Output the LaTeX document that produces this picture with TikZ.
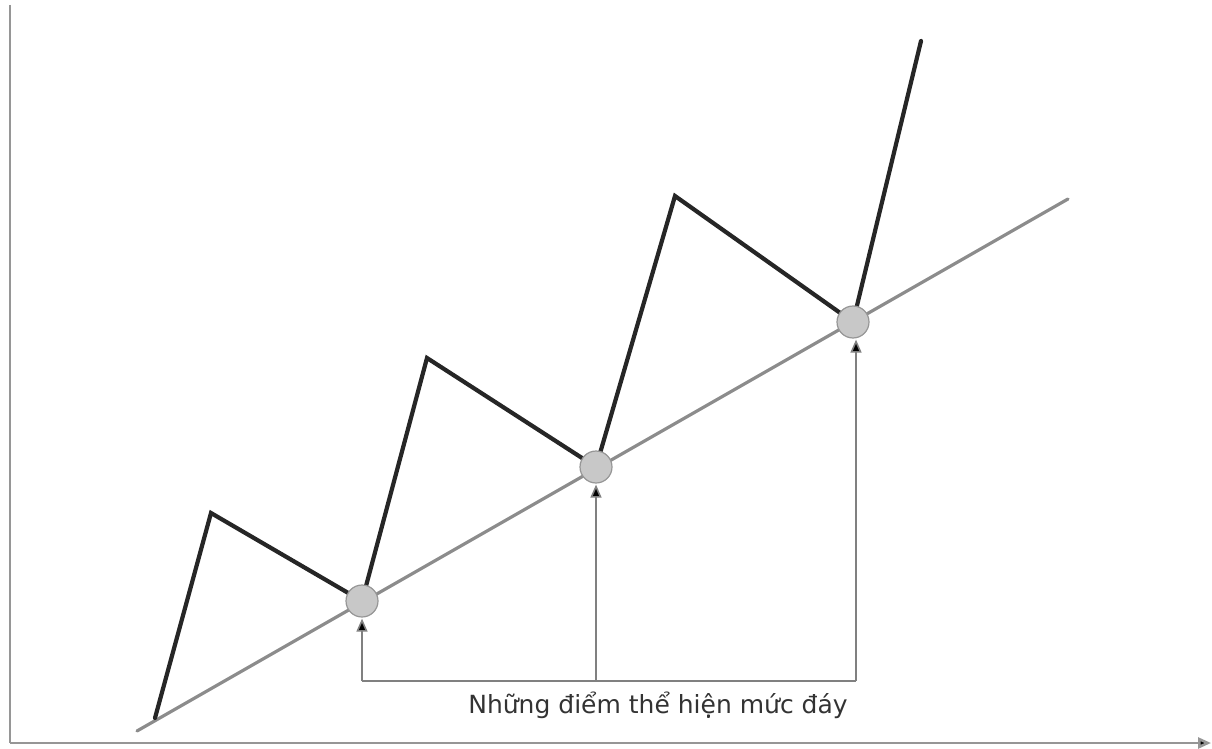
\documentclass[tikz,border=0pt]{standalone}
\usepackage{fontspec}
\setmainfont{DejaVu Sans}
\usetikzlibrary{arrows.meta}
\definecolor{axisgray}{RGB}{150,150,150}
\definecolor{trendgray}{RGB}{140,140,140}
\definecolor{dotgray}{RGB}{200,200,200}
\definecolor{dotedge}{RGB}{150,150,150}
\tikzset{
  axis/.style={draw=axisgray, line width=2.6pt},
  trend/.style={draw=trendgray, line width=3.2pt, line cap=round},
  zig/.style={draw=black!85, line width=4.2pt, line join=miter, line cap=round},
  dot/.style={circle, fill=dotgray, draw=dotedge, line width=1.2pt, minimum size=32pt, inner sep=0pt},
  pointer/.style={draw=black!50, line width=1.6pt, -{Triangle[length=13pt,width=11pt,fill=black]}},
  bracket/.style={draw=black!50, line width=1.6pt},
  lbl/.style={font=\fontsize{25}{29}\selectfont, text=black!80, inner sep=0pt}
}
\begin{document}
\begin{tikzpicture}[x=1pt,y=-1pt]
\useasboundingbox (0,0) rectangle (1212,749);
% axes
\coordinate (yt) at (10,5);
\coordinate (o) at (10,743);
\coordinate (xe) at (1211,743);
\draw[axis] (yt) -- (o);
\draw[axis, -{Triangle[length=13pt,width=11pt,fill=black]}] (o) -- (xe);
% trend line
\coordinate (ts) at (137,731);
\coordinate (te) at (1068,199);
\draw[trend] (ts) -- (te);
% zigzag
\coordinate (z0) at (155,718);
\coordinate (z1) at (211,513);
\coordinate (z2) at (362,601);
\coordinate (z3) at (427,358);
\coordinate (z4) at (596,467);
\coordinate (z5) at (675,196);
\coordinate (z6) at (853,322);
\coordinate (z7) at (921,41);
\draw[zig] (z0) -- (z1) -- (z2) -- (z3) -- (z4) -- (z5) -- (z6) -- (z7);
% dots
\node[dot] (d1) at (z2) {};
\node[dot] (d2) at (z4) {};
\node[dot] (d3) at (z6) {};
% bracket
\coordinate (b1) at (362,681);
\coordinate (b2) at (596,681);
\coordinate (b3) at (856,681);
\draw[bracket] (b1) -- (b3);
\draw[pointer] (b1) -- ([yshift=-1pt]d1.south);
\draw[pointer] (b2) -- ([yshift=-1pt]d2.south);
\draw[pointer] (b3) -- ([xshift=3pt,yshift=-1pt]d3.south);
\node[lbl] (t) at (658,705) {Những điểm thể hiện mức đáy};
\end{tikzpicture}
\end{document}
